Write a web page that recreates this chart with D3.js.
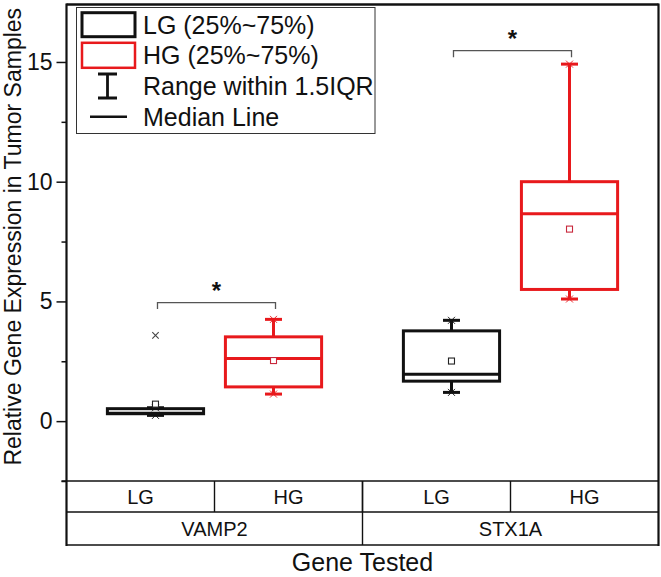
<!DOCTYPE html>
<html>
<head>
<meta charset="utf-8">
<script src="https://cdn.jsdelivr.net/npm/d3@7"></script>
<style>
  body { margin: 0; background: #fff; }
  svg { display: block; font-family: "Liberation Sans", Arial, sans-serif; }
</style>
</head>
<body>
<svg id="chart" width="661" height="577"></svg>
<script>
// ---- data ----
const genes = ["VAMP2", "STX1A"];
const groups = ["LG", "HG"];
const boxGene = ["VAMP2", "VAMP2", "STX1A", "STX1A"];
const boxGroup = ["LG", "HG", "LG", "HG"];
const whiskerLow = [0.24, 1.13, 1.20, 5.10];
const q1 = [0.31, 1.43, 1.67, 5.50];
const median = [0.33, 2.62, 1.96, 8.66];
const q3 = [0.52, 3.52, 3.77, 10.00];
const whiskerHigh = [0.56, 4.25, 4.21, 14.91];
const means = [0.71, 2.53, 2.51, 8.02];
const outlierGene = ["VAMP2"];
const outlierGroup = ["LG"];
const outlierValue = [3.58];
const sigGene = ["VAMP2", "STX1A"];
const sigLevel = [4.95, 15.47];
const sigLabel = ["*", "*"];
const yMajorTicks = [0, 5, 10, 15];
const yMinorTicks = [-2.5, 2.5, 7.5, 12.5];
const legendLabels = ["LG (25%~75%)", "HG (25%~75%)", "Range within 1.5IQR", "Median Line"];
const yTitle = "Relative Gene Expression in Tumor Samples";
const xTitle = "Gene Tested";

// ---- layout ----
const svg = d3.select("#chart");
const L = 66.5, R = 658.5, T = 4.5, B = 481, row1 = 512, row2 = 545;
const color = { LG: "#111111", HG: "#e8191c" };
const meanColor = { LG: "#222222", HG: "#c8283c" };

const y = d3.scaleLinear().domain([-2.5, 17.4]).range([B, T]);
const x0 = d3.scaleBand().domain(genes).range([L, R]);
const x1 = d3.scalePoint().domain(groups).range([0, x0.bandwidth()]).padding(0.754);
const cell = d3.scaleBand().domain(groups).range([0, x0.bandwidth()]);
const boxW = x1.step() * 0.815;
const capHalf = 8.5;
const cx = (g, grp) => x0(g) + x1(grp);

// ---- axes ----
const yAxis = svg.append("g").attr("transform", `translate(${L},0)`)
  .call(d3.axisLeft(y).tickValues(yMajorTicks).tickSize(10).tickPadding(4).tickFormat(d3.format("d")));
yAxis.select(".domain").remove();
yAxis.selectAll(".tick line").attr("stroke", "#111").attr("stroke-width", 1.5);
yAxis.selectAll(".tick text").attr("font-size", 23).attr("fill", "#111")
  .attr("font-family", "'Liberation Sans', Arial, sans-serif");
const yMinor = svg.append("g").attr("transform", `translate(${L},0)`)
  .call(d3.axisLeft(y).tickValues(yMinorTicks).tickSize(5).tickFormat(""));
yMinor.select(".domain").remove();
yMinor.selectAll(".tick line").attr("stroke", "#111").attr("stroke-width", 1.5);

// frame
svg.append("line").attr("x1", L).attr("x2", L).attr("y1", T - 1).attr("y2", row2 + 1)
  .attr("stroke", "#111").attr("stroke-width", 2.2);
svg.append("line").attr("x1", R).attr("x2", R).attr("y1", T - 1).attr("y2", row2 + 1)
  .attr("stroke", "#111").attr("stroke-width", 2.2);
svg.append("line").attr("x1", L).attr("x2", R).attr("y1", T).attr("y2", T)
  .attr("stroke", "#111").attr("stroke-width", 2.4);
[B, row1, row2].forEach(yy => {
  svg.append("line").attr("x1", yy === B ? L - 5 : L).attr("x2", R).attr("y1", yy).attr("y2", yy)
    .attr("stroke", "#111").attr("stroke-width", 1.6);
});

// table cells
genes.forEach(g => {
  groups.forEach(grp => {
    const xs = x0(g) + cell(grp);
    if (xs > L + 1) {
      svg.append("line").attr("x1", xs).attr("x2", xs).attr("y1", B).attr("y2", row1)
        .attr("stroke", "#111").attr("stroke-width", 1.4);
    }
    svg.append("text").attr("x", xs + cell.bandwidth() / 2).attr("y", (B + row1) / 2 + 7)
      .attr("text-anchor", "middle").attr("font-size", 20).attr("fill", "#111").text(grp);
  });
  if (x0(g) > L + 1) {
    svg.append("line").attr("x1", x0(g)).attr("x2", x0(g)).attr("y1", B).attr("y2", row2)
      .attr("stroke", "#111").attr("stroke-width", 1.4);
  }
  svg.append("text").attr("x", x0(g) + x0.bandwidth() / 2).attr("y", (row1 + row2) / 2 + 7)
    .attr("text-anchor", "middle").attr("font-size", 20).attr("fill", "#111").text(g);
});

// titles
svg.append("text").attr("x", (L + R) / 2).attr("y", 571).attr("text-anchor", "middle")
  .attr("font-size", 25).attr("fill", "#111").text(xTitle);
svg.append("text").attr("transform", `translate(21,${(T + B) / 2 - 6}) rotate(-90)`)
  .attr("text-anchor", "middle").attr("font-size", 23).attr("fill", "#111").text(yTitle);

// ---- boxes ----
const boxes = boxGene.map((g, i) => ({
  gene: g, group: boxGroup[i], lo: whiskerLow[i], q1: q1[i], med: median[i],
  q3: q3[i], hi: whiskerHigh[i], mean: means[i]
}));
const gBox = svg.append("g");
function xMark(g, px, py, s, col, w) {
  g.append("path").attr("d", `M${px - s},${py - s}L${px + s},${py + s}M${px - s},${py + s}L${px + s},${py - s}`)
    .attr("stroke", col).attr("stroke-width", w).attr("fill", "none");
}
boxes.forEach(b => {
  const c = cx(b.gene, b.group);
  const col = color[b.group];
  const g = gBox.append("g");
  // whiskers
  g.append("line").attr("x1", c).attr("x2", c).attr("y1", y(b.q3)).attr("y2", y(b.hi))
    .attr("stroke", col).attr("stroke-width", 3);
  g.append("line").attr("x1", c).attr("x2", c).attr("y1", y(b.q1)).attr("y2", y(b.lo))
    .attr("stroke", col).attr("stroke-width", 3);
  [b.lo, b.hi].forEach(v => {
    g.append("line").attr("x1", c - capHalf).attr("x2", c + capHalf)
      .attr("y1", y(v)).attr("y2", y(v)).attr("stroke", col).attr("stroke-width", 3);
    xMark(g, c, y(v), 3.5, col, 0.9);
  });
  // box
  g.append("rect").attr("x", c - boxW / 2).attr("y", y(b.q3)).attr("width", boxW)
    .attr("height", y(b.q1) - y(b.q3)).attr("fill", "none").attr("stroke", col).attr("stroke-width", 3);
  g.append("line").attr("x1", c - boxW / 2).attr("x2", c + boxW / 2).attr("y1", y(b.med)).attr("y2", y(b.med))
    .attr("stroke", col).attr("stroke-width", 3);
  // mean
  g.append("rect").attr("x", c - 3).attr("y", y(b.mean) - 3).attr("width", 6).attr("height", 6)
    .attr("fill", "#fff").attr("stroke", meanColor[b.group]).attr("stroke-width", 1.1);
});
// outliers
outlierValue.forEach((v, i) => {
  xMark(gBox, cx(outlierGene[i], outlierGroup[i]), y(v), 3.2, "#444", 1.1);
});

// significance brackets
sigGene.forEach((g, i) => {
  const xa = cx(g, "LG") + 2, xb = cx(g, "HG") + 2, yy = y(sigLevel[i]);
  svg.append("path").attr("d", `M${xa},${yy + 6.5}V${yy}H${xb}V${yy + 6.5}`)
    .attr("fill", "none").attr("stroke", "#555").attr("stroke-width", 1.3);
  svg.append("text").attr("x", (xa + xb) / 2).attr("y", yy - 4).attr("text-anchor", "middle")
    .attr("font-size", 24).attr("font-weight", "bold").attr("fill", "#111").text(sigLabel[i]);
});

// ---- legend ----
const lg = svg.append("g");
lg.append("rect").attr("x", 76.5).attr("y", 7.5).attr("width", 298.5).attr("height", 126)
  .attr("fill", "#fff").attr("stroke", "#333").attr("stroke-width", 1);
const rowY = [24.7, 55.3, 86, 116.7];
lg.append("rect").attr("x", 82).attr("y", rowY[0] - 12).attr("width", 53).attr("height", 24)
  .attr("fill", "#fff").attr("stroke", color.LG).attr("stroke-width", 3);
lg.append("rect").attr("x", 82).attr("y", rowY[1] - 12.5).attr("width", 53).attr("height", 25)
  .attr("fill", "#fff").attr("stroke", color.HG).attr("stroke-width", 2.5);
lg.append("path").attr("d", `M98,${rowY[2] - 12}H117M107.5,${rowY[2] - 12}V${rowY[2] + 12}M98,${rowY[2] + 12}H117`)
  .attr("stroke", "#111").attr("stroke-width", 2.8).attr("fill", "none");
lg.append("line").attr("x1", 90).attr("x2", 127).attr("y1", rowY[3]).attr("y2", rowY[3])
  .attr("stroke", "#111").attr("stroke-width", 2.5);
legendLabels.forEach((t, i) => {
  lg.append("text").attr("x", 143).attr("y", rowY[i] + 9).attr("font-size", 25)
    .attr("fill", "#111").text(t);
});
</script>
</body>
</html>
